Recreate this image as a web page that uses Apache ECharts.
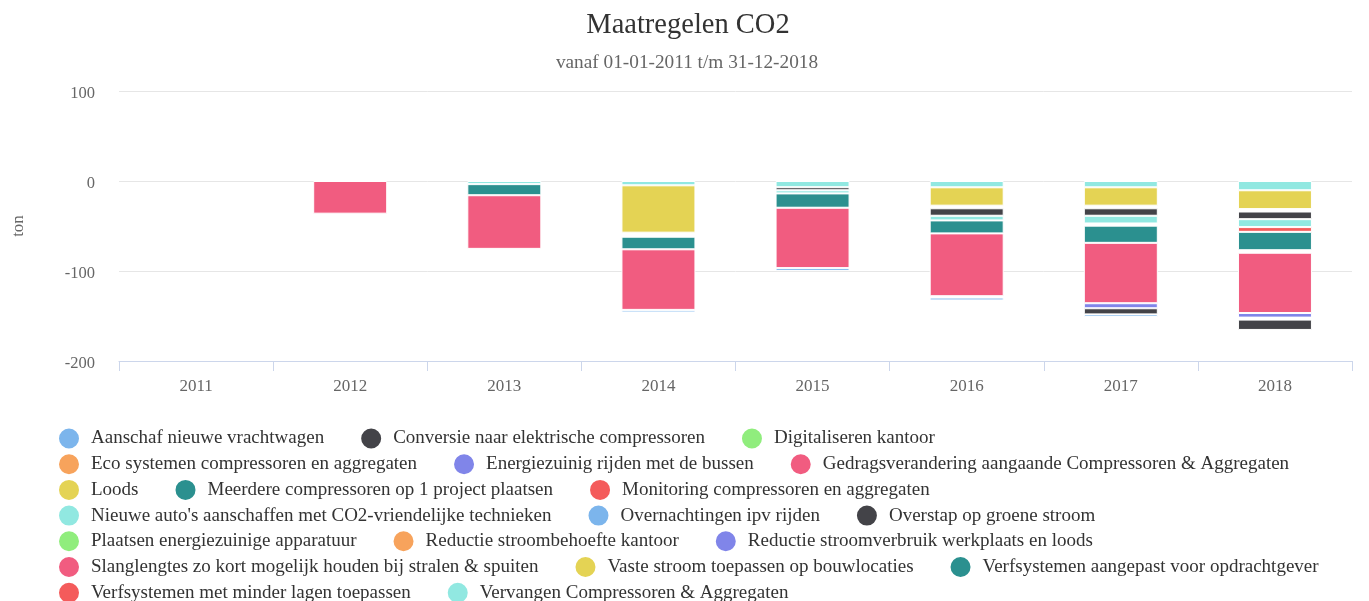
<!DOCTYPE html>
<html>
<head>
<meta charset="utf-8">
<title>Maatregelen CO2</title>
<script src="https://cdn.jsdelivr.net/npm/echarts@6/dist/echarts.min.js"></script>
<style>
  html, body { margin: 0; padding: 0; background: #fff; }
  #chart { width: 1369px; height: 601px; }
</style>
</head>
<body>
<div id="chart"></div>
<script>
'use strict';

var years = ['2011', '2012', '2013', '2014', '2015', '2016', '2017', '2018'];

// values in ton (negative = reduction)
var vervangen     = [null, null, -3.5, -4.8, -6.9, -7.0, -7.0, -10.3];
var vasteStroom   = [null, null, null, -52.6, null, -20.4, -20.4, -20.9];
var overstap      = [null, null, null, null, -3.4, -8.3, -8.3, -8.5];
var nieuweAutos   = [null, null, null, null, -3.5, -5.2, -8.6, -8.8];
var monitoring    = [null, null, null, null, null, null, null, -5.3];
var meerdere      = [null, null, -12.3, -14.0, -15.9, -14.4, -19.1, -20.4];
var gedrag        = [null, -36.3, -59.6, -67.3, -67.1, -69.8, -67.1, -67.0];
var energiezuinig = [null, null, null, null, null, null, -5.6, -5.1];
var conversie     = [null, null, null, null, null, null, -6.8, -11.5];
var aanschaf      = [null, null, null, -2.8, -3.3, -3.2, -2.9, null];
var empty         = [null, null, null, null, null, null, null, null];

// white gaps that show between some segments in the original
var gapA = [null, null, null, -4.5, null, -2.9, -2.9, -2.7];
var gapB = [null, null, null, null, null, null, -2.4, null];
var gapC = [null, null, null, null, null, null, null, -2.8];
var gapD = [null, null, null, null, null, -1.5, null, null];
var gapE = [null, null, null, null, null, null, null, -2.2];

// stacking order, from zero downwards
var stackOrder = [
  ['Vervangen Compressoren & Aggregaten', '#91e8e1', vervangen],
  ['Verfsystemen met minder lagen toepassen', '#f45b5b', empty],
  ['Verfsystemen aangepast voor opdrachtgever', '#2b908f', empty],
  ['Vaste stroom toepassen op bouwlocaties', '#e4d354', vasteStroom],
  ['Slanglengtes zo kort mogelijk houden bij stralen & spuiten', '#f15c80', empty],
  ['Reductie stroomverbruik werkplaats en loods', '#8085e9', empty],
  ['Reductie stroombehoefte kantoor', '#f7a35c', empty],
  ['Plaatsen energiezuinige apparatuur', '#90ed7d', empty],
  ['gapA', null, gapA],
  ['Overstap op groene stroom', '#434348', overstap],
  ['Overnachtingen ipv rijden', '#7cb5ec', empty],
  ["Nieuwe auto's aanschaffen met CO2-vriendelijke technieken", '#91e8e1', nieuweAutos],
  ['gapB', null, gapB],
  ['Monitoring compressoren en aggregaten', '#f45b5b', monitoring],
  ['Meerdere compressoren op 1 project plaatsen', '#2b908f', meerdere],
  ['gapC', null, gapC],
  ['Loods', '#e4d354', empty],
  ['Gedragsverandering aangaande Compressoren & Aggregaten', '#f15c80', gedrag],
  ['gapD', null, gapD],
  ['Energiezuinig rijden met de bussen', '#8085e9', energiezuinig],
  ['gapE', null, gapE],
  ['Eco systemen compressoren en aggregaten', '#f7a35c', empty],
  ['Digitaliseren kantoor', '#90ed7d', empty],
  ['Conversie naar elektrische compressoren', '#434348', conversie],
  ['Aanschaf nieuwe vrachtwagen', '#7cb5ec', aanschaf]
];

var legendRows = [
  ['Aanschaf nieuwe vrachtwagen', 'Conversie naar elektrische compressoren', 'Digitaliseren kantoor'],
  ['Eco systemen compressoren en aggregaten', 'Energiezuinig rijden met de bussen', 'Gedragsverandering aangaande Compressoren & Aggregaten'],
  ['Loods', 'Meerdere compressoren op 1 project plaatsen', 'Monitoring compressoren en aggregaten'],
  ["Nieuwe auto's aanschaffen met CO2-vriendelijke technieken", 'Overnachtingen ipv rijden', 'Overstap op groene stroom'],
  ['Plaatsen energiezuinige apparatuur', 'Reductie stroombehoefte kantoor', 'Reductie stroomverbruik werkplaats en loods'],
  ['Slanglengtes zo kort mogelijk houden bij stralen & spuiten', 'Vaste stroom toepassen op bouwlocaties', 'Verfsystemen aangepast voor opdrachtgever'],
  ['Verfsystemen met minder lagen toepassen', 'Vervangen Compressoren & Aggregaten']
];

var FONT = "'Liberation Serif', 'Times New Roman', serif";

var series = stackOrder.map(function (s) {
  var isGap = s[1] === null;
  return {
    name: s[0],
    type: 'bar',
    stack: 'co2',
    barWidth: 74,
    data: s[2],
    silent: isGap,
    itemStyle: {
      color: isGap ? 'rgba(0,0,0,0)' : s[1],
      borderColor: '#ffffff',
      borderWidth: isGap ? 0 : 1
    }
  };
});

var legends = legendRows.map(function (row, i) {
  return {
    data: row,
    left: 57,
    top: 426.5 + i * 25.7,
    padding: 0,
    icon: 'circle',
    itemWidth: 34,
    itemHeight: 22,
    itemGap: 35,
    textStyle: { fontFamily: FONT, fontSize: 19, color: '#333333' }
  };
});

var chartDom = document.getElementById('chart');
var myChart = echarts.init(chartDom);

var option = {
  animation: false,
  textStyle: { fontFamily: FONT },
  title: [
    {
      text: 'Maatregelen CO2',
      left: 688,
      textAlign: 'center',
      top: 11,
      padding: 0,
      textStyle: { fontFamily: FONT, fontSize: 28.5, fontWeight: 'normal', color: '#333333' }
    },
    {
      text: 'vanaf 01-01-2011 t/m 31-12-2018',
      left: 687,
      textAlign: 'center',
      top: 53,
      padding: 0,
      textStyle: { fontFamily: FONT, fontSize: 19.3, fontWeight: 'normal', color: '#666666' }
    }
  ],
  legend: legends,
  grid: { left: 119, right: 17, top: 91, bottom: 240 },
  xAxis: {
    type: 'category',
    data: years,
    axisLine: { onZero: false, lineStyle: { color: '#ccd6eb' } },
    axisTick: { show: true, length: 10, alignWithLabel: false, lineStyle: { color: '#ccd6eb' } },
    axisLabel: { fontFamily: FONT, fontSize: 17, color: '#666666', margin: 17 }
  },
  yAxis: {
    type: 'value',
    min: -200,
    max: 100,
    interval: 100,
    name: 'ton',
    nameLocation: 'middle',
    nameGap: 92,
    nameTextStyle: { fontFamily: FONT, fontSize: 17, color: '#666666' },
    axisLine: { show: false },
    axisTick: { show: false },
    splitLine: { lineStyle: { color: '#e6e6e6' } },
    axisLabel: { fontFamily: FONT, fontSize: 16.5, color: '#666666', margin: 24, verticalAlign: 'top', lineHeight: 6 }
  },
  series: series
};

myChart.setOption(option);
</script>
</body>
</html>
